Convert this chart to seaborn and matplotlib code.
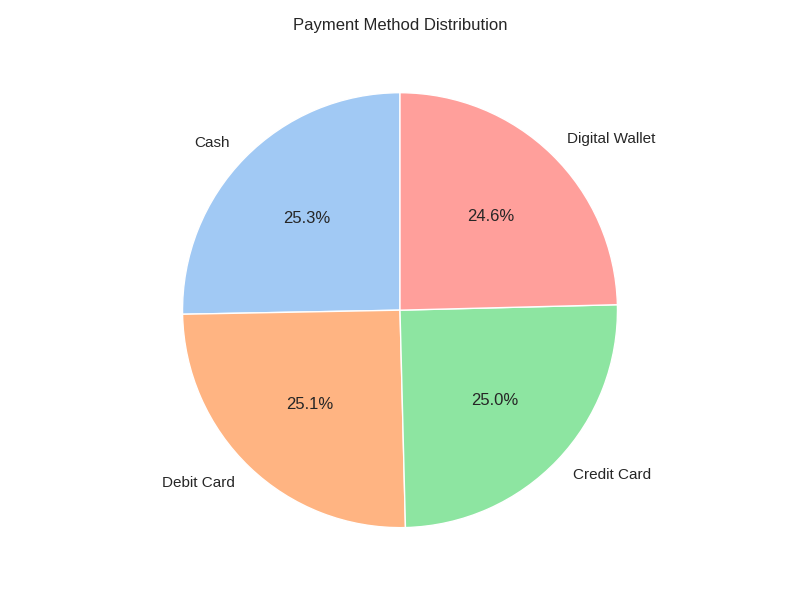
import matplotlib
matplotlib.use('Agg')
import matplotlib.pyplot as plt
import seaborn as sns

# Données (%)
methods = ['Cash', 'Debit Card', 'Credit Card', 'Digital Wallet']
shares = [25.3, 25.1, 25.0, 24.6]

sns.set_theme(style='whitegrid')
plt.rcParams['font.family'] = ['Arial', 'Liberation Sans', 'DejaVu Sans']

colors = sns.color_palette('pastel')[:len(methods)]

plt.figure(figsize=(8, 6))
plt.pie(shares, labels=methods, autopct='%1.1f%%', startangle=90, colors=colors)
plt.title('Payment Method Distribution')
plt.tight_layout()
plt.savefig('out.png', dpi=100)
